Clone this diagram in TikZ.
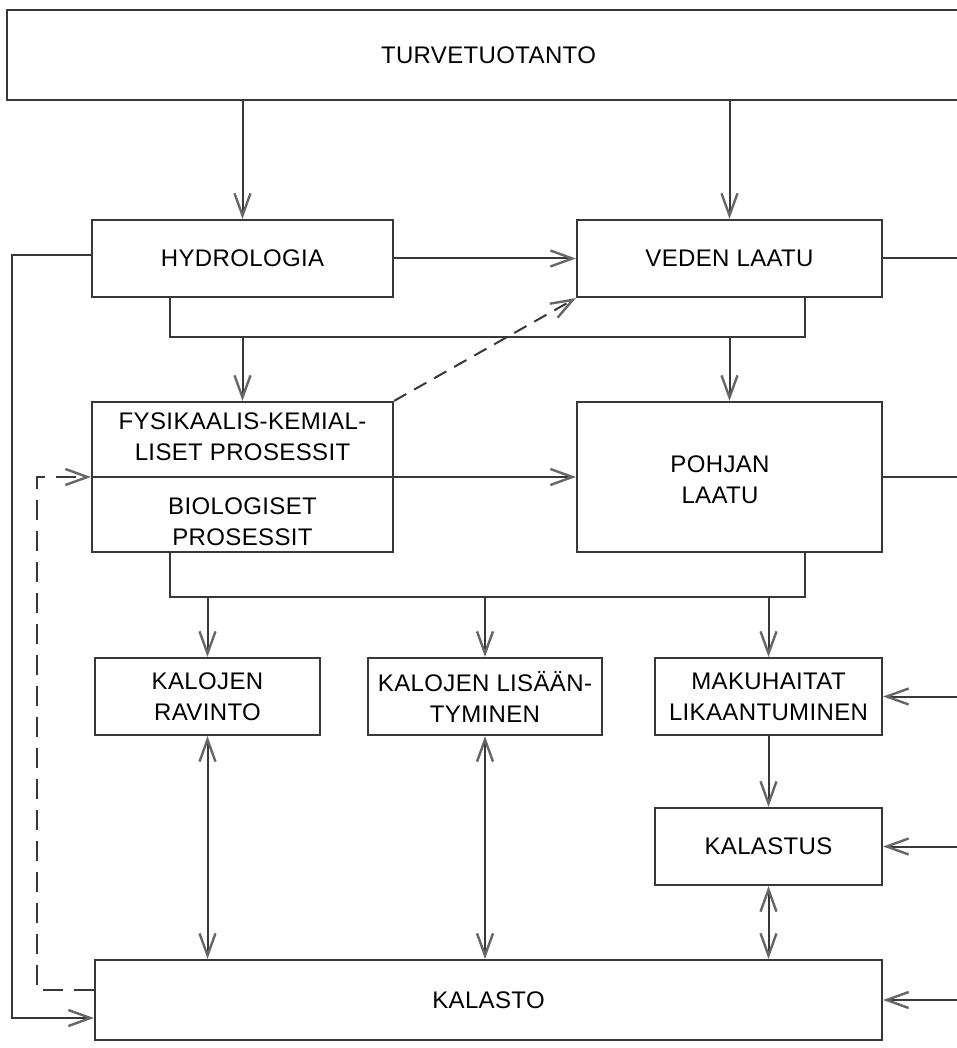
\documentclass[tikz,border=0pt]{standalone}
\usepackage{fontspec}
\setmainfont{Liberation Sans}[LetterSpace=1.5]
\usetikzlibrary{arrows.meta}
\definecolor{ln}{gray}{0.22}
\definecolor{tip}{gray}{0.4}
\begin{document}
\begin{tikzpicture}[x=1pt,y=-1pt,
  every node/.style={font=\fontsize{24}{31}\selectfont, text=black, align=center},
  box/.style={draw=ln, line width=2.2pt, rectangle, inner sep=0pt},
  conn/.style={draw=ln, line width=2pt},
  arr/.style={conn, -{Straight Barb[length=22pt,width=16pt,line width=2.4pt,color=tip]}},
  darr/.style={conn, {Straight Barb[length=22pt,width=16pt,line width=2.4pt,color=tip]}-{Straight Barb[length=22pt,width=16pt,line width=2.4pt,color=tip]}},
  dsh/.style={dash pattern=on 20pt off 11pt}]
\clip (0,0) rectangle (957,1048);
\fill[white] (0,0) rectangle (957,1048);

% boxes
\node[box, minimum width=963pt, minimum height=90pt] (turve) at (488.5,55) {TURVETUOTANTO};
\node[box, minimum width=301pt, minimum height=77pt] (hyd) at (242.5,258.5) {HYDROLOGIA};
\node[box, minimum width=305pt, minimum height=77pt] (veden) at (729.5,258.5) {VEDEN LAATU};
\node[box, minimum width=301pt, minimum height=150pt] (fys) at (242.5,477) {};
\node (fystop) at (242.5,437) {FYSIKAALIS-KEMIAL-\\LISET PROSESSIT};
\node (fysbot) at (242.5,522) {BIOLOGISET\\PROSESSIT};
\node[box, minimum width=305pt, minimum height=150pt] (pohjan) at (729.5,477) {};
\node (pohjantxt) at (720,480) {POHJAN\\LAATU};
\node[box, minimum width=225pt, minimum height=77pt] (ravinto) at (207.5,696.5) {KALOJEN\\RAVINTO};
\node[box, minimum width=234pt, minimum height=77pt] (lisaan) at (485,696.5) {KALOJEN LIS\"A\"AN-\\TYMINEN};
\node[box, minimum width=227pt, minimum height=77pt] (maku) at (768.5,696.5) {MAKUHAITAT\\LIKAANTUMINEN};
\node[box, minimum width=227pt, minimum height=77pt] (kalastus) at (768.5,846.5) {KALASTUS};
\node[box, minimum width=787pt, minimum height=80pt] (kalasto) at (488.5,1000) {KALASTO};

% junction coordinates
\coordinate (j1L) at (170,337);
\coordinate (j1R) at (805,337);
\coordinate (j2L) at (170,597);
\coordinate (j2R) at (805,597);
\coordinate (loopL) at (12,255);
\coordinate (dashL) at (37,990);
\coordinate (rA) at (960,258.5);
\coordinate (rB) at (960,477);
\coordinate (rC) at (960,696.5);
\coordinate (rD) at (960,846.5);
\coordinate (rE) at (960,1000);

% top arrows
\draw[arr] (turve.south -| hyd.north) -- (hyd.north);
\draw[arr] (turve.south -| veden.north) -- (veden.north);
\draw[arr] (hyd.east) -- (veden.west);
\draw[conn] (veden.east) -- (rA);

% left feedback loop
\draw[arr] (loopL -| hyd.west) -- (loopL) |- ([yshift=-18pt]kalasto.west);

% junction 1
\draw[conn] (hyd.south -| j1L) |- (j1R) -- (veden.south -| j1R);
\draw[arr] (j1L -| hyd.north) -- (fys.north);
\draw[arr] (j1R -| veden.north) -- (pohjan.north);

% dashed diagonal
\draw[arr, dash pattern=on 14pt off 9pt] (fys.north east) -- (veden.south west);

% process divider and arrow
\draw[conn] (fys.west) -- (fys.east);
\draw[arr] (fys.east) -- (pohjan.west);
\draw[conn] (pohjan.east) -- (rB);

% dashed feedback
\draw[arr, dsh] ([yshift=10pt]kalasto.west) -- (dashL) |- (fys.west);

% junction 2
\draw[conn] (fys.south -| j2L) |- (j2R) -- (pohjan.south -| j2R);
\draw[arr] (j2L -| ravinto.north) -- (ravinto.north);
\draw[arr] (j2L -| lisaan.north) -- (lisaan.north);
\draw[arr] (j2L -| maku.north) -- (maku.north);

% bottom arrows
\draw[darr] (ravinto.south) -- (kalasto.north -| ravinto.south);
\draw[darr] (lisaan.south) -- (kalasto.north -| lisaan.south);
\draw[arr] (maku.south) -- (kalastus.north);
\draw[darr] (kalastus.south) -- (kalasto.north -| kalastus.south);

% right inputs
\draw[arr] (rC) -- (maku.east);
\draw[arr] (rD) -- (kalastus.east);
\draw[arr] (rE) -- (kalasto.east);
\end{tikzpicture}
\end{document}
